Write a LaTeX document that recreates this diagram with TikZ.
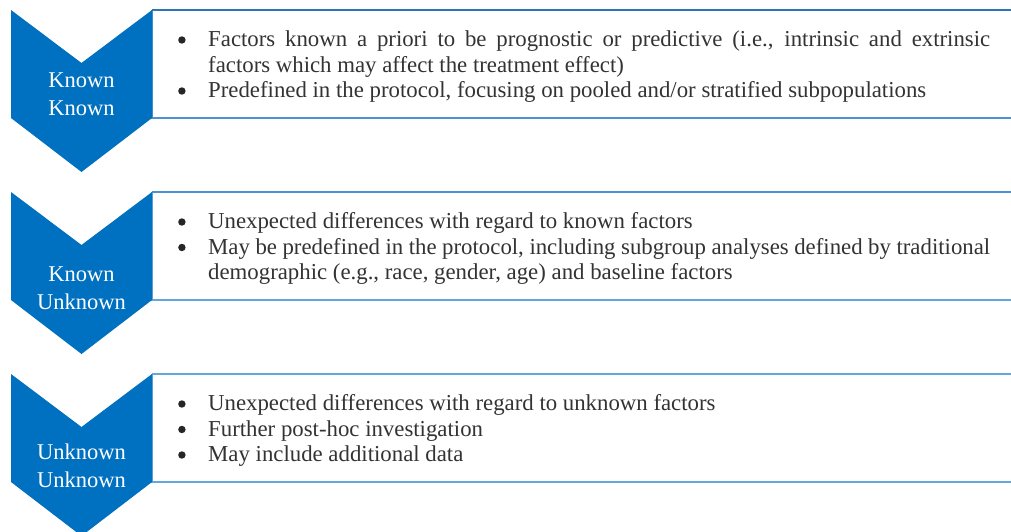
\documentclass[tikz,border=0pt]{standalone}
\usepackage{fontspec}
\setmainfont{Liberation Serif}
\definecolor{chevblue}{HTML}{0070C0}
\definecolor{lineA}{HTML}{2E75B6}
\definecolor{lineB}{HTML}{4A92D0}
\definecolor{lineC}{HTML}{62A8DE}
% round list marker drawn as a small filled disc
\newcommand{\bulmark}{\tikz[baseline=0pt]\fill[black!85] (4pt,6.8pt) circle[radius=3.7pt];}
\newcommand{\bulitem}[1]{\par\noindent\hangindent=30pt\hangafter=1\makebox[30pt][l]{\bulmark}#1\par}
\tikzset{
  chevron/.style={fill=chevblue, draw=none},
  chevlabel/.style={text=white, align=center, inner sep=0pt,
    font=\fontsize{22.5}{28.5}\selectfont},
  itemtext/.style={anchor=west, inner sep=0pt, text width=812pt, align=justify,
    font=\fontsize{22.8}{25.5}\selectfont, text=black!80},
}
\begin{document}
\begin{tikzpicture}[x=1pt,y=-1pt]
\useasboundingbox (0,0) rectangle (1011,532);
\clip (0,0) rectangle (1011,532);

% text panels (open on the right)
\foreach \t/\ct/\cb in {10/lineA/lineB, 192/lineB/lineC, 374/lineC/lineC}{
  \fill[white] (152,\t) rectangle (1020,\t+108);
  \draw[line width=1.5pt,\cb] (1020,\t+108) -- (152,\t+108) -- (152,\t);
  \draw[line width=1.5pt,\ct] (152,\t) -- (1020,\t);
}

% downward chevrons
\foreach \t in {10,192,374}{
  \path[chevron] (11,\t) -- (81.5,\t+53) -- (152,\t) -- (152,\t+108)
    -- (81.5,\t+162) -- (11,\t+108) -- cycle;
}

\node[chevlabel] (kk) at (81.5,94) {Known\\Known};
\node[chevlabel] (ku) at (81.5,288) {Known\\Unknown};
\node[chevlabel] (uu) at (81.5,466) {Unknown\\Unknown};

\node[itemtext] (t1) at (178,62) {%
  \bulitem{Factors known a priori to be prognostic or predictive (i.e., intrinsic and extrinsic\linebreak factors which may affect the treatment effect)}%
  \bulitem{Predefined in the protocol, focusing on pooled and/or stratified subpopulations}};

\node[itemtext] (t2) at (178,244) {%
  \bulitem{Unexpected differences with regard to known factors}%
  \bulitem{May be predefined in the protocol, including subgroup analyses defined by traditional\linebreak demographic (e.g., race, gender, age) and baseline factors}};

\node[itemtext] (t3) at (178,426) {%
  \bulitem{Unexpected differences with regard to unknown factors}%
  \bulitem{Further post-hoc investigation}%
  \bulitem{May include additional data}};
\end{tikzpicture}
\end{document}
